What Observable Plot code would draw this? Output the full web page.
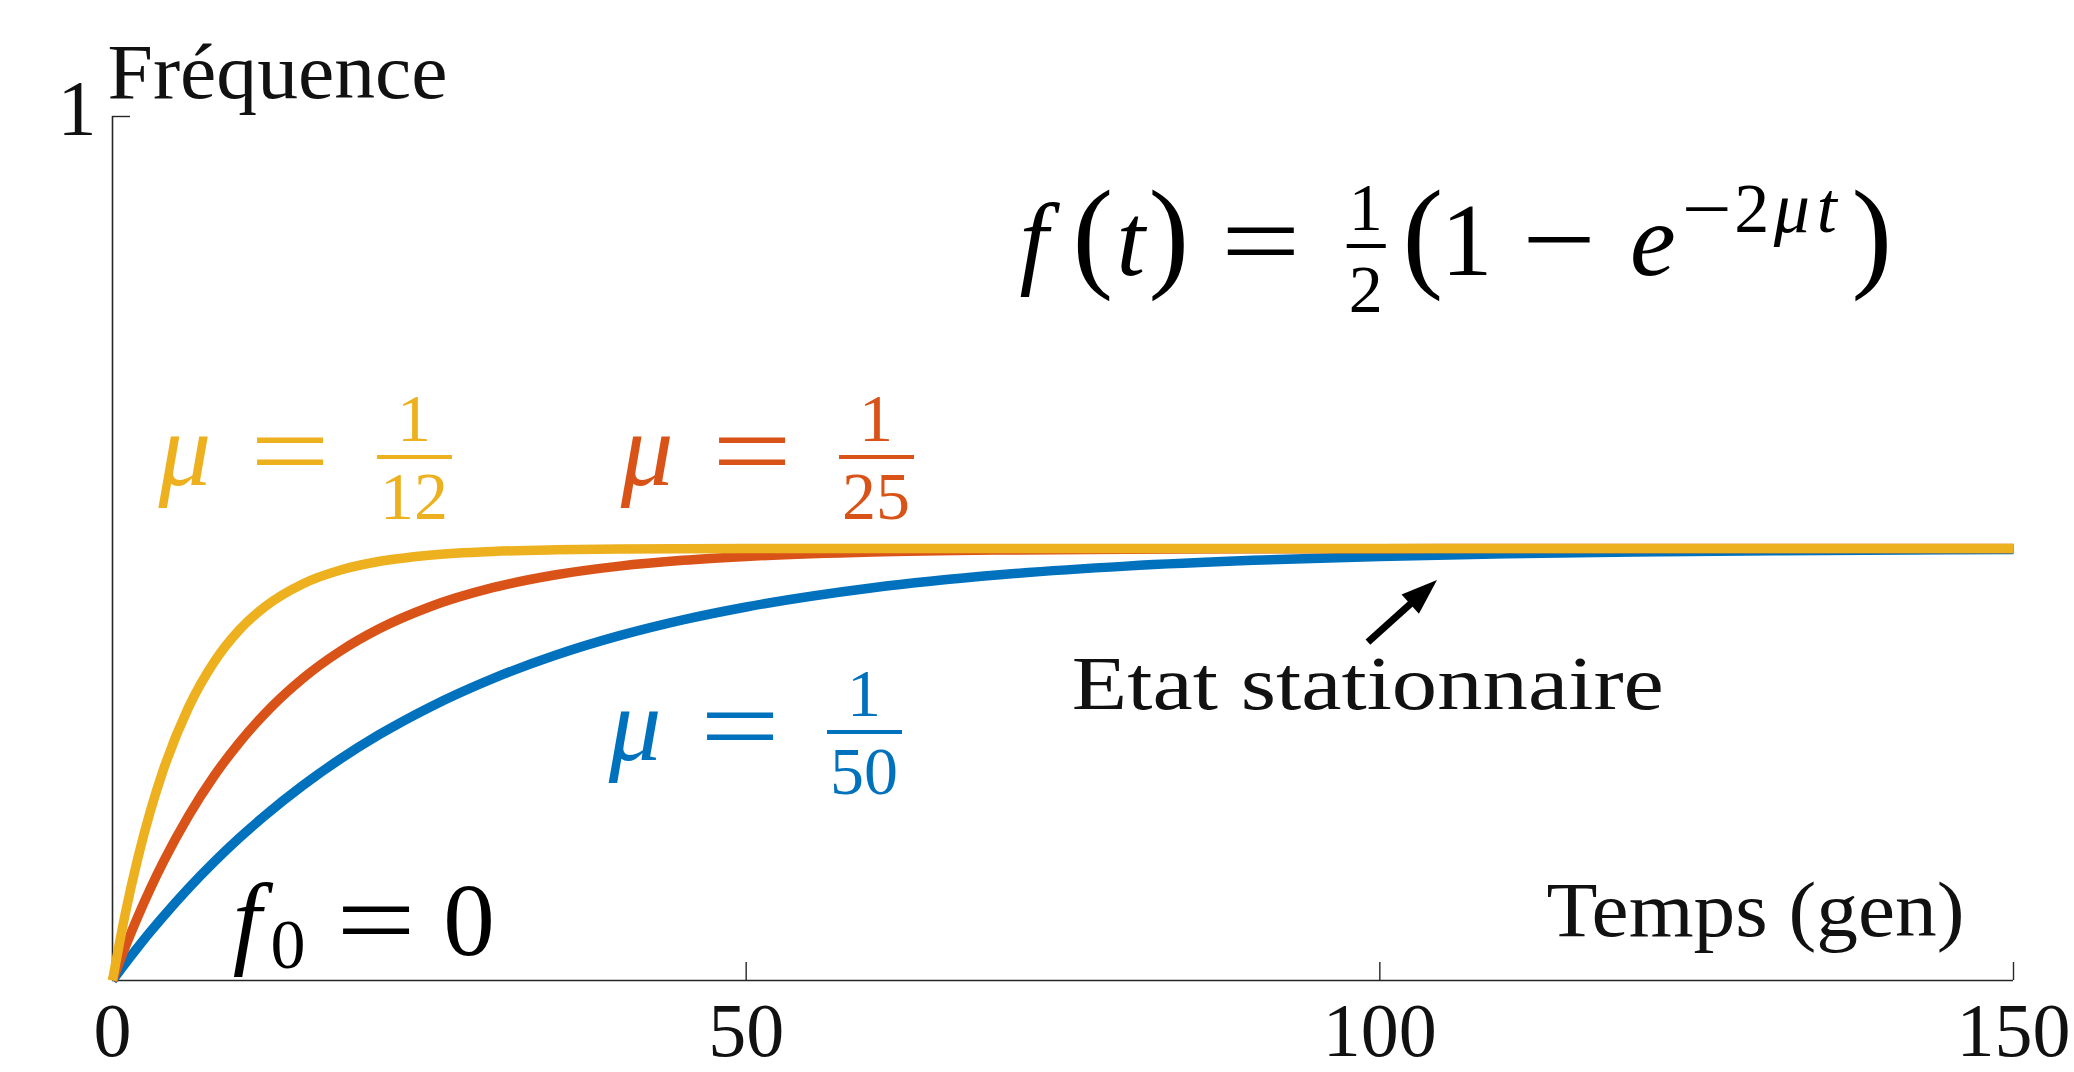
<!DOCTYPE html>
<html>
<head>
<meta charset="utf-8">
<script src="https://cdn.jsdelivr.net/npm/d3@7"></script>
<script src="https://cdn.jsdelivr.net/npm/@observablehq/plot@0.6"></script>
<style>
  html, body { margin: 0; padding: 0; background: #fff; overflow: hidden; }
</style>
</head>
<body>
<div id="chart"></div>
<script>
// Time in generations
const generations = [0, 1, 2, 3, 4, 6, 8, 10, 12, 15, 18, 21, 25, 30, 35, 40, 45, 50, 60, 70, 80, 90, 100, 110, 120, 135, 150];
// Allele frequency for each mutation rate
const freqMu12 = [0, 0.0768, 0.1417, 0.1967, 0.2433, 0.3161, 0.3682, 0.4056, 0.4323, 0.4590, 0.4751, 0.4849, 0.4922, 0.4966, 0.4985, 0.4994, 0.4997, 0.4999, 0.5, 0.5, 0.5, 0.5, 0.5, 0.5, 0.5, 0.5, 0.5];
const freqMu25 = [0, 0.0384, 0.0739, 0.1067, 0.1369, 0.1906, 0.2364, 0.2753, 0.3085, 0.3494, 0.3815, 0.4068, 0.4323, 0.4546, 0.4696, 0.4796, 0.4863, 0.4908, 0.4959, 0.4982, 0.4992, 0.4996, 0.4998, 0.4999, 0.5, 0.5, 0.5];
const freqMu50 = [0, 0.0196, 0.0384, 0.0566, 0.0739, 0.1067, 0.1369, 0.1648, 0.1906, 0.2256, 0.2566, 0.2842, 0.3161, 0.3494, 0.3767, 0.3991, 0.4174, 0.4323, 0.4546, 0.4696, 0.4796, 0.4863, 0.4908, 0.4939, 0.4959, 0.4977, 0.4988];
const seriesDenominators = ["50", "25", "12"];
const xTickValues = [0, 50, 100, 150];
const yTickValues = [1];

const COLORS = { "50": "#0072BD", "25": "#D95319", "12": "#EDB120" };
const FONT = "Liberation Serif";
const INK = "#111";

const seriesValues = { "50": freqMu50, "25": freqMu25, "12": freqMu12 };
const rows = seriesDenominators.flatMap(den =>
  generations.map((t, i) => ({ t, f: seriesValues[den][i], den }))
);

const W = 2074, H = 1072;
const M = { top: 116, right: 61, bottom: 92, left: 112 };
const innerH = H - M.top - M.bottom;
const innerW = W - M.left - M.right;
const TICK = 18;

// Typeset a small math expression anchored at a data point (x, y = math axis).
// Optional "w" stretches a glyph to a given advance width.
function mathMark(t0, f0, color, pieces, bars) {
  return (index, scales) => {
    const X = scales.x(t0), Y = scales.y(f0);
    const g = d3.create("svg:g").attr("fill", color).attr("font-family", FONT);
    for (const p of pieces) {
      const t = g.append("text")
        .attr("x", X + p.x).attr("y", Y + p.y)
        .attr("text-anchor", "middle")
        .attr("font-size", p.size)
        .attr("font-style", p.it ? "italic" : null)
        .text(p.s);
      if (p.w) t.attr("textLength", p.w).attr("lengthAdjust", "spacingAndGlyphs");
    }
    for (const [a, b, yy] of bars) {
      g.append("line")
        .attr("x1", X + a).attr("x2", X + b)
        .attr("y1", Y + yy).attr("y2", Y + yy)
        .attr("stroke", color).attr("stroke-width", 4);
    }
    return g.node();
  };
}

function muLabel(t0, f0, den) {
  return mathMark(t0, f0, COLORS[den], [
    { s: "μ", x: 30, y: 28, size: 105, it: true },
    { s: "=", x: 135, y: 31, size: 110, w: 80 },
    { s: "1", x: 259, y: -16, size: 68 },
    { s: den, x: 259, y: 62, size: 68 }
  ], [[222, 297, 0]]);
}

const formula = mathMark(70.6, 0.8484, "#000", [
  { s: "f", x: 27, y: 28, size: 103, it: true },
  { s: "(", x: 86, y: 28, size: 122 },
  { s: "t", x: 124, y: 28, size: 103, it: true },
  { s: ")", x: 162, y: 28, size: 122 },
  { s: "=", x: 254, y: 31, size: 110, w: 80 },
  { s: "1", x: 359, y: -17, size: 68 },
  { s: "2", x: 359, y: 65, size: 68 },
  { s: "(", x: 416, y: 28, size: 122 },
  { s: "1", x: 460, y: 28, size: 103 },
  { s: "−", x: 552, y: 30, size: 112, w: 74 },
  { s: "e", x: 646, y: 28, size: 103, it: true },
  { s: "−", x: 700, y: -14, size: 72, w: 50 },
  { s: "2", x: 745, y: -15, size: 70 },
  { s: "μ", x: 785, y: -15, size: 72, it: true },
  { s: "t", x: 820, y: -15, size: 72, it: true },
  { s: ")", x: 865, y: 28, size: 122 }
], [[340, 379, -1]]);

const initial = mathMark(8.92, 0.0625, "#000", [
  { s: "f", x: 22, y: 29, size: 103, it: true },
  { s: "0", x: 63, y: 42, size: 70 },
  { s: "=", x: 151, y: 31, size: 110, w: 80 },
  { s: "0", x: 244, y: 29, size: 103 }
], []);

// Arrow pointing at the plateau
const arrowFrom = { t: 99.1, f: 0.391 };
const arrowTo = { t: 104.55, f: 0.463 };
function arrowMark(index, scales) {
  const x1 = scales.x(arrowFrom.t), y1 = scales.y(arrowFrom.f);
  const x2 = scales.x(arrowTo.t), y2 = scales.y(arrowTo.f);
  const a = Math.atan2(y2 - y1, x2 - x1);
  const L = 36, hw = 13;
  const bx = x2 - L * Math.cos(a), by = y2 - L * Math.sin(a);
  const nx = -Math.sin(a), ny = Math.cos(a);
  const g = d3.create("svg:g");
  g.append("line").attr("x1", x1).attr("y1", y1).attr("x2", bx + 4 * Math.cos(a)).attr("y2", by + 4 * Math.sin(a))
    .attr("stroke", "#000").attr("stroke-width", 7);
  g.append("path")
    .attr("d", `M${x2},${y2}L${bx + hw * nx},${by + hw * ny}L${bx - hw * nx},${by - hw * ny}Z`)
    .attr("fill", "#000");
  return g.node();
}

const plot = Plot.plot({
  width: W,
  height: H,
  marginTop: M.top,
  marginRight: M.right,
  marginBottom: M.bottom,
  marginLeft: M.left,
  style: { fontFamily: FONT, background: "#fff", color: INK, overflow: "visible" },
  x: { domain: [0, 150], axis: null },
  y: { domain: [0, 1], axis: null },
  marks: [
    // axes and inward ticks
    Plot.ruleX([0], { stroke: "#262626", strokeWidth: 1.6 }),
    Plot.ruleY([0], { stroke: "#262626", strokeWidth: 1.6 }),
    Plot.tickX(xTickValues, { x: d => d, stroke: "#262626", strokeWidth: 1.4, insetTop: innerH - TICK }),
    Plot.tickY(yTickValues, { y: d => d, stroke: "#262626", strokeWidth: 1.4, insetRight: innerW - TICK }),
    Plot.text(xTickValues, {
      x: d => d, frameAnchor: "bottom", text: d => String(d),
      fontSize: 76, fontFamily: FONT, fill: INK, lineAnchor: "bottom", dy: 75
    }),
    Plot.text(yTickValues, {
      y: d => d, frameAnchor: "left", text: d => String(d),
      fontSize: 78, fontFamily: FONT, fill: INK, textAnchor: "end", lineAnchor: "bottom", dx: -16, dy: 17
    }),
    Plot.text(["Fréquence"], {
      frameAnchor: "top-left", text: d => d, fontSize: 78, fontFamily: FONT, fill: INK,
      textAnchor: "start", lineAnchor: "bottom", dx: -5, dy: -19
    }),
    Plot.text(["Temps (gen)"], {
      frameAnchor: "bottom-right", text: d => d, fontSize: 78, fontFamily: FONT, fill: INK,
      textAnchor: "end", lineAnchor: "bottom", dx: -49, dy: -45
    }),
    // curves
    Plot.line(rows, {
      x: "t", y: "f", z: "den", stroke: d => COLORS[d.den],
      strokeWidth: 9.5, curve: "monotone-x", strokeLinecap: "butt", strokeLinejoin: "round"
    }),
    // annotations
    Plot.text(["Etat stationnaire"], {
      x: () => 75.7, y: () => 0.3148, text: d => d, fontSize: 76, fontFamily: FONT, fill: INK,
      textAnchor: "start", lineAnchor: "bottom"
    }),
    arrowMark,
    formula,
    initial,
    muLabel(3.39, 0.6053, "12"),
    muLabel(39.85, 0.6053, "25"),
    muLabel(38.9, 0.287, "50")
  ]
});

// stretch the wider text labels to their full set width
const setWidths = { "Fréquence": 340, "Temps (gen)": 418, "Etat stationnaire": 592 };
d3.select(plot).selectAll("text").each(function () {
  const w = setWidths[this.textContent];
  if (w) {
    this.setAttribute("textLength", w);
    this.setAttribute("lengthAdjust", "spacingAndGlyphs");
  }
});

document.getElementById("chart").appendChild(plot);
</script>
</body>
</html>
